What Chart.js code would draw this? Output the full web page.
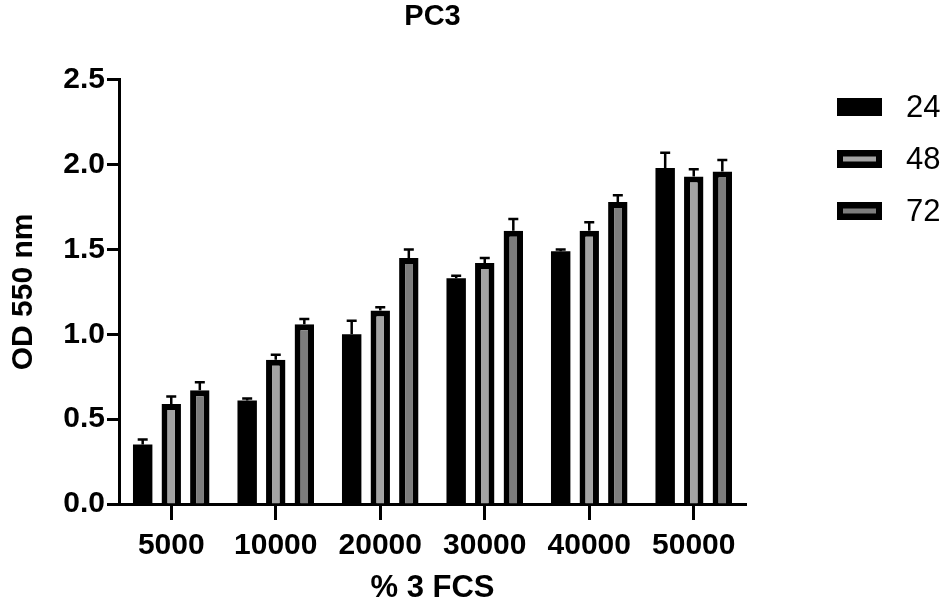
<!DOCTYPE html>
<html>
<head>
<meta charset="utf-8">
<title>PC3</title>
<script src="https://cdn.jsdelivr.net/npm/chart.js@4.4.0/dist/chart.umd.min.js"></script>
<style>
  body { margin: 0; background: #fff; }
  #wrap { width: 949px; height: 615px; position: relative; }
</style>
</head>
<body>
<div id="wrap"><canvas id="myChart"></canvas></div>
<script>
// data
var categories = ['5000', '10000', '20000', '30000', '40000', '50000'];
var seriesNames = ['24', '48', '72'];
var values24 = [0.35, 0.61, 1.00, 1.33, 1.49, 1.98];
var values48 = [0.59, 0.85, 1.14, 1.42, 1.61, 1.93];
var values72 = [0.67, 1.06, 1.45, 1.61, 1.78, 1.96];
var err24 = [0.03, 0.012, 0.08, 0.015, 0.01, 0.09];
var err48 = [0.043, 0.03, 0.02, 0.03, 0.05, 0.043];
var err72 = [0.047, 0.03, 0.05, 0.07, 0.04, 0.067];
var yTicks = [0, 0.5, 1.0, 1.5, 2.0, 2.5];

var FONT = "'Liberation Sans', Arial, sans-serif";

// upward error bars
var errorBars = {
  id: 'errorBars',
  afterDatasetsDraw: function (chart) {
    var ctx = chart.ctx;
    var y = chart.scales.y;
    ctx.save();
    ctx.strokeStyle = '#000';
    ctx.lineWidth = 2.5;
    chart.data.datasets.forEach(function (ds, i) {
      var meta = chart.getDatasetMeta(i);
      meta.data.forEach(function (bar, j) {
        var top = y.getPixelForValue(ds.data[j] + ds.errors[j]);
        ctx.beginPath();
        ctx.moveTo(bar.x, bar.y);
        ctx.lineTo(bar.x, top);
        ctx.moveTo(bar.x - 5, top);
        ctx.lineTo(bar.x + 5, top);
        ctx.stroke();
      });
    });
    ctx.restore();
  }
};

// legend on the right
var sideLegend = {
  id: 'sideLegend',
  afterDraw: function (chart) {
    var ctx = chart.ctx;
    ctx.save();
    chart.data.datasets.forEach(function (ds, i) {
      var cy = 107 + i * 52;
      ctx.fillStyle = '#000';
      ctx.fillRect(837, cy - 9, 45, 18);
      if (ds.borderWidth) {
        ctx.fillStyle = ds.backgroundColor;
        ctx.fillRect(843, cy - 2.5, 33, 5);
      }
      ctx.fillStyle = '#000';
      ctx.font = '31px ' + FONT;
      ctx.textBaseline = 'middle';
      ctx.textAlign = 'left';
      ctx.fillText(ds.label, 906, cy + 1);
    });
    ctx.restore();
  }
};

var ctx = document.getElementById('myChart');
var chart = new Chart(ctx, {
  type: 'bar',
  data: {
    labels: categories,
    datasets: [
      { label: seriesNames[0], data: values24, errors: err24, backgroundColor: '#000', borderWidth: 0 },
      { label: seriesNames[1], data: values48, errors: err48, backgroundColor: '#a3a3a3', borderColor: '#000', borderWidth: 6 },
      { label: seriesNames[2], data: values72, errors: err72, backgroundColor: '#7d7d7d', borderColor: '#000', borderWidth: 6 }
    ]
  },
  plugins: [errorBars, sideLegend],
  options: {
    responsive: true,
    maintainAspectRatio: false,
    animation: false,
    datasets: {
      bar: { categoryPercentage: 0.82, barPercentage: 0.68 }
    },
    layout: { padding: { left: 0, right: 203, top: 0, bottom: 0 } },
    plugins: {
      legend: { display: false },
      tooltip: { enabled: false },
      title: {
        display: true,
        fullSize: false,
        text: 'PC3',
        color: '#000',
        font: { family: FONT, size: 29, weight: 'bold', lineHeight: 1.2 },
        padding: { top: 0, bottom: 45 }
      }
    },
    scales: {
      x: {
        afterFit: function (s) { s.height = 111; },
        border: { display: true, color: '#000', width: 3 },
        grid: { display: true, offset: false, drawOnChartArea: false, drawTicks: true, tickLength: 16, tickWidth: 3, tickColor: '#000' },
        ticks: { color: '#000', padding: 8, maxRotation: 0, font: { family: FONT, size: 30, weight: 'bold' } },
        title: {
          display: true, text: '% 3 FCS', color: '#000',
          font: { family: FONT, size: 31, weight: 'bold', lineHeight: 1.2 },
          padding: { top: 8, bottom: 8 }
        }
      },
      y: {
        min: 0,
        max: 2.5,
        afterFit: function (s) { s.width = 119; },
        afterBuildTicks: function (s) { s.ticks = yTicks.map(function (v) { return { value: v }; }); },
        border: { display: true, color: '#000', width: 3 },
        grid: { display: true, drawOnChartArea: false, drawTicks: true, tickLength: 12, tickWidth: 3, tickColor: '#000' },
        ticks: {
          color: '#000', padding: 2,
          font: { family: FONT, size: 30, weight: 'bold' },
          callback: function (v) { return Number(v).toFixed(1); }
        },
        title: {
          display: true, text: 'OD 550 nm', color: '#000',
          font: { family: FONT, size: 30, weight: 'bold', lineHeight: 1.2 },
          padding: { top: 6, bottom: 6 }
        }
      }
    }
  }
});
</script>
</body>
</html>
